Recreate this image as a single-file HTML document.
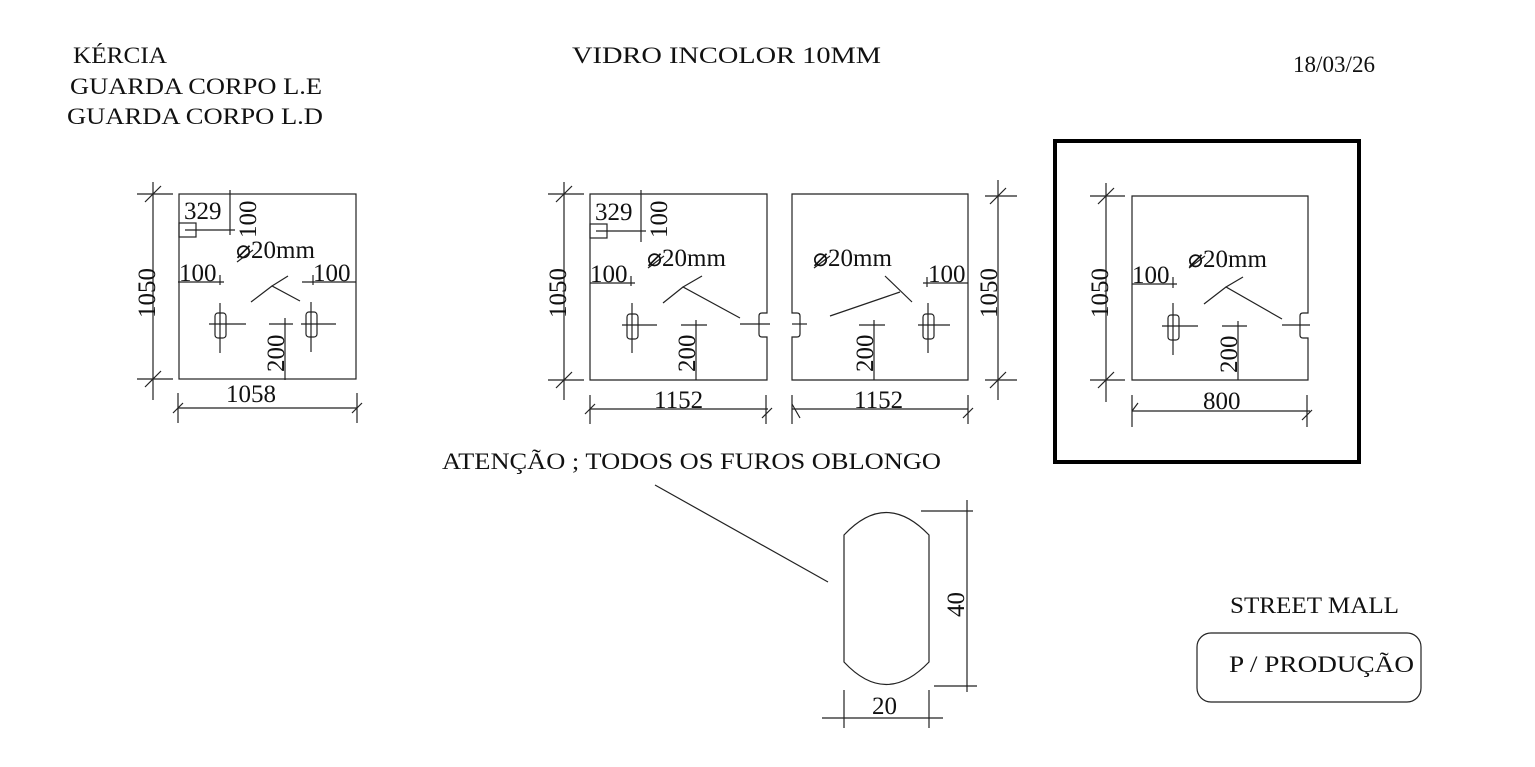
<!DOCTYPE html>
<html><head><meta charset="utf-8"><style>
html,body{margin:0;padding:0;background:#fff;}
svg{display:block;}
text{font-family:"Liberation Serif",serif;fill:#111;}
.d{font-size:25px;}
.t{font-size:23px;}
</style></head><body>
<svg width="1535" height="767" viewBox="0 0 1535 767" xmlns="http://www.w3.org/2000/svg">
<g stroke="#222" stroke-width="1.2" fill="none">
<!-- Panel 1 -->
<rect x="179" y="194" width="177" height="185"/>
<line x1="153" y1="182" x2="153" y2="400"/>
<line x1="137" y1="194" x2="173" y2="194"/><line x1="145" y1="202" x2="161" y2="186"/>
<line x1="137" y1="379" x2="173" y2="379"/><line x1="145" y1="387" x2="161" y2="371"/>
<line x1="178" y1="408" x2="357" y2="408"/>
<line x1="178" y1="393" x2="178" y2="423"/><line x1="357" y1="393" x2="357" y2="423"/>
<line x1="173" y1="413" x2="183" y2="403"/><line x1="352" y1="413" x2="362" y2="403"/>
<rect x="179" y="223" width="17" height="14"/>
<line x1="185" y1="230" x2="235" y2="230"/><line x1="230" y1="190" x2="230" y2="235"/>
<line x1="178" y1="282" x2="224" y2="282"/><line x1="220" y1="275" x2="220" y2="285"/>
<line x1="302" y1="282" x2="356" y2="282"/><line x1="313" y1="275" x2="313" y2="285"/>
<line x1="237" y1="262" x2="253" y2="250"/>
<polyline points="251,302 272,286 300,301"/><line x1="272" y1="286" x2="288" y2="276"/>
<rect x="215" y="313" width="11" height="25" rx="3"/>
<line x1="209" y1="324" x2="246" y2="324"/><line x1="220" y1="303" x2="220" y2="353"/>
<rect x="306" y="312" width="11" height="25" rx="3"/>
<line x1="301" y1="324" x2="336" y2="324"/><line x1="311" y1="302" x2="311" y2="352"/>
<line x1="285" y1="318" x2="285" y2="380"/><line x1="269" y1="324" x2="293" y2="324"/>

<!-- Panel 2 -->
<path d="M590,194 L767,194 L767,313 L762,313 Q759,313 759,316 L759,334 Q759,337 762,337 L767,337 L767,380 L590,380 Z"/>
<line x1="564" y1="182" x2="564" y2="400"/>
<line x1="548" y1="194" x2="584" y2="194"/><line x1="556" y1="202" x2="572" y2="186"/>
<line x1="548" y1="380" x2="584" y2="380"/><line x1="556" y1="388" x2="572" y2="372"/>
<line x1="590" y1="409" x2="768" y2="409"/>
<line x1="590" y1="395" x2="590" y2="424"/><line x1="766" y1="395" x2="766" y2="424"/>
<line x1="585" y1="414" x2="595" y2="404"/><line x1="762" y1="418" x2="772" y2="408"/>
<rect x="590" y="224" width="17" height="14"/>
<line x1="596" y1="231" x2="646" y2="231"/><line x1="641" y1="190" x2="641" y2="242"/>
<line x1="590" y1="283" x2="635" y2="283"/><line x1="631" y1="276" x2="631" y2="286"/>
<line x1="648" y1="268" x2="664" y2="256"/>
<polyline points="663,303 683,287 740,318"/><line x1="683" y1="287" x2="702" y2="276"/>
<rect x="627" y="314" width="11" height="25" rx="3"/>
<line x1="622" y1="325" x2="657" y2="325"/><line x1="632" y1="303" x2="632" y2="353"/>
<line x1="696" y1="320" x2="696" y2="380"/><line x1="681" y1="325" x2="707" y2="325"/>
<line x1="740" y1="324" x2="770" y2="324"/>

<!-- Panel 3 -->
<path d="M792,194 L968,194 L968,380 L792,380 L792,337 L797,337 Q800,337 800,334 L800,316 Q800,313 797,313 L792,313 Z"/>
<line x1="998" y1="180" x2="998" y2="400"/>
<line x1="985" y1="196" x2="1017" y2="196"/><line x1="990" y1="204" x2="1006" y2="188"/>
<line x1="985" y1="380" x2="1017" y2="380"/><line x1="990" y1="388" x2="1006" y2="372"/>
<line x1="792" y1="409" x2="968" y2="409"/>
<line x1="792" y1="395" x2="792" y2="424"/><line x1="968" y1="395" x2="968" y2="424"/>
<line x1="792" y1="404" x2="800" y2="418"/><line x1="963" y1="418" x2="973" y2="408"/>
<line x1="792" y1="324" x2="807" y2="324"/>
<line x1="814" y1="268" x2="830" y2="256"/>
<line x1="830" y1="316" x2="900" y2="292"/><line x1="885" y1="276" x2="912" y2="302"/>
<line x1="923" y1="283" x2="968" y2="283"/><line x1="927" y1="277" x2="927" y2="287"/>
<rect x="923" y="314" width="11" height="25" rx="3"/>
<line x1="918" y1="325" x2="950" y2="325"/><line x1="928" y1="303" x2="928" y2="353"/>
<line x1="874" y1="320" x2="874" y2="380"/><line x1="859" y1="325" x2="885" y2="325"/>

<!-- Panel 4 -->
<rect x="1055" y="141" width="304" height="321" stroke="#000" stroke-width="4"/>
<path d="M1132,196 L1308,196 L1308,313 L1303,313 Q1300,313 1300,316 L1300,335 Q1300,338 1303,338 L1308,338 L1308,380 L1132,380 Z"/>
<line x1="1106" y1="183" x2="1106" y2="402"/>
<line x1="1090" y1="196" x2="1125" y2="196"/><line x1="1098" y1="204" x2="1114" y2="188"/>
<line x1="1090" y1="380" x2="1125" y2="380"/><line x1="1098" y1="388" x2="1114" y2="372"/>
<line x1="1132" y1="411" x2="1310" y2="411"/>
<line x1="1132" y1="395" x2="1132" y2="427"/><line x1="1307" y1="395" x2="1307" y2="427"/>
<line x1="1132" y1="411" x2="1138" y2="403"/><line x1="1302" y1="420" x2="1312" y2="410"/>
<line x1="1132" y1="284" x2="1177" y2="284"/><line x1="1173" y1="277" x2="1173" y2="288"/>
<line x1="1189" y1="268" x2="1205" y2="256"/>
<polyline points="1204,304 1226,287 1282,319"/><line x1="1226" y1="287" x2="1243" y2="277"/>
<rect x="1168" y="315" width="11" height="25" rx="3"/>
<line x1="1162" y1="326" x2="1198" y2="326"/><line x1="1173" y1="303" x2="1173" y2="355"/>
<line x1="1238" y1="321" x2="1238" y2="380"/><line x1="1222" y1="326" x2="1247" y2="326"/>
<line x1="1282" y1="325" x2="1310" y2="325"/>

<!-- Oblong detail -->
<path d="M844,535 Q886,490 929,535 L929,662 Q886,707 844,662 Z"/>
<line x1="655" y1="485" x2="828" y2="582"/>
<line x1="967" y1="500" x2="967" y2="692"/>
<line x1="921" y1="511" x2="973" y2="511"/><line x1="934" y1="686" x2="977" y2="686"/>
<line x1="822" y1="718" x2="943" y2="718"/>
<line x1="844" y1="690" x2="844" y2="728"/><line x1="929" y1="690" x2="929" y2="728"/>

<rect x="1197" y="633" width="224" height="69" rx="14"/>
</g>

<!-- Texts -->
<text class="t" x="73" y="63" textLength="94" lengthAdjust="spacingAndGlyphs">KÉRCIA</text>
<text class="t" x="70" y="94" textLength="252" lengthAdjust="spacingAndGlyphs">GUARDA CORPO  L.E</text>
<text class="t" x="67" y="124" textLength="256" lengthAdjust="spacingAndGlyphs">GUARDA CORPO  L.D</text>
<text class="t" x="572" y="63" textLength="309" lengthAdjust="spacingAndGlyphs">VIDRO INCOLOR 10MM</text>
<text class="t" x="1293" y="72" textLength="82" lengthAdjust="spacingAndGlyphs">18/03/26</text>
<text class="t" x="442" y="469" textLength="499" lengthAdjust="spacingAndGlyphs">ATENÇÃO ; TODOS OS FUROS    OBLONGO</text>
<text class="t" x="1230" y="613" textLength="169" lengthAdjust="spacingAndGlyphs">STREET MALL</text>
<text class="t" x="1229" y="672" textLength="185" lengthAdjust="spacingAndGlyphs">P / PRODUÇÃO</text>

<!-- Panel 1 dims -->
<text class="d" x="184" y="219">329</text>
<text class="d" transform="translate(256,238) rotate(-90)">100</text>
<text class="d" x="236" y="258">⌀20mm</text>
<text class="d" x="179" y="281">100</text>
<text class="d" x="313" y="281">100</text>
<text class="d" transform="translate(284,372) rotate(-90)">200</text>
<text class="d" transform="translate(155,318) rotate(-90)">1050</text>
<text class="d" x="226" y="402">1058</text>

<!-- Panel 2 dims -->
<text class="d" x="595" y="220">329</text>
<text class="d" transform="translate(667,238) rotate(-90)">100</text>
<text class="d" x="647" y="266">⌀20mm</text>
<text class="d" x="590" y="282">100</text>
<text class="d" transform="translate(695,372) rotate(-90)">200</text>
<text class="d" transform="translate(566,318) rotate(-90)">1050</text>
<text class="d" x="654" y="408">1152</text>

<!-- Panel 3 dims -->
<text class="d" x="813" y="266">⌀20mm</text>
<text class="d" x="928" y="282">100</text>
<text class="d" transform="translate(873,372) rotate(-90)">200</text>
<text class="d" transform="translate(997,318) rotate(-90)">1050</text>
<text class="d" x="854" y="408">1152</text>

<!-- Panel 4 dims -->
<text class="d" x="1188" y="267">⌀20mm</text>
<text class="d" x="1132" y="283">100</text>
<text class="d" transform="translate(1237,373) rotate(-90)">200</text>
<text class="d" transform="translate(1108,318) rotate(-90)">1050</text>
<text class="d" x="1203" y="409">800</text>

<!-- Oblong dims -->
<text class="d" transform="translate(964,617) rotate(-90)">40</text>
<text class="d" x="872" y="714">20</text>
</svg>
</body></html>
